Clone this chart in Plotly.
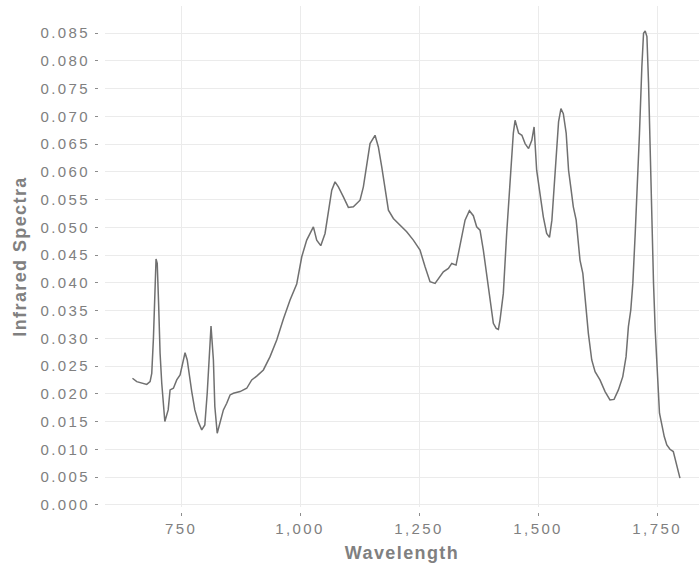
import plotly.graph_objects as go

wavelength = [648, 657, 678, 685, 688.5, 692, 697.5, 700, 703, 706, 709.5, 716, 723, 727, 734, 741, 748,
              758.4, 763, 769, 772.5, 779, 786, 793.5, 800, 805, 809, 813, 818, 821, 826, 832, 839, 846,
              853, 860, 874, 888, 898.5, 909, 923, 937, 951, 965, 979, 993, 1003.6, 1014, 1028, 1035,
              1043.5, 1052.5, 1059.5, 1066.6, 1073.5, 1080.5, 1091, 1101.5, 1112, 1126, 1133, 1140, 1147,
              1157.5, 1164.5, 1171.6, 1178.6, 1185.6, 1196, 1210, 1224, 1238, 1252, 1262.6, 1273, 1283.6,
              1294, 1301, 1311.6, 1318.7, 1327.7, 1336, 1346.6, 1355.7, 1364, 1371, 1378, 1385, 1392,
              1399, 1406, 1412, 1416.6, 1420, 1427, 1434, 1441, 1448, 1451.7, 1459, 1466, 1472.7, 1480,
              1486.8, 1491.6, 1497, 1504, 1511, 1518, 1524, 1529, 1533.6, 1539, 1543, 1548, 1553, 1559,
              1564, 1568.6, 1574, 1580, 1588, 1594, 1601, 1605.6, 1612.7, 1619.7, 1630, 1640.7, 1651,
              1659.6, 1668.7, 1677.9, 1684.8, 1689.7, 1694.7, 1699, 1704, 1709, 1713, 1718, 1721.5, 1725,
              1728.6, 1732, 1735.5, 1739, 1742.5, 1746, 1748, 1751, 1755, 1760, 1765, 1770.4, 1777, 1784,
              1788, 1793, 1798]
spectra = [0.0228, 0.0222, 0.0217, 0.0222, 0.0237, 0.0300, 0.0443, 0.0435, 0.0360, 0.0273, 0.0219, 0.0150,
           0.0171, 0.0207, 0.0210, 0.0225, 0.0234, 0.0274, 0.0261, 0.0219, 0.0204, 0.0171, 0.0150, 0.0135,
           0.0144, 0.0201, 0.0260, 0.0322, 0.0261, 0.0177, 0.0129, 0.0147, 0.0171, 0.0183, 0.0198, 0.0201,
           0.0204, 0.0210, 0.0225, 0.0232, 0.0243, 0.0267, 0.0297, 0.0335, 0.0369, 0.0398, 0.0447, 0.0477,
           0.0501, 0.0477, 0.0467, 0.0489, 0.0525, 0.0567, 0.0582, 0.0573, 0.0555, 0.0536, 0.0537, 0.0549,
           0.0573, 0.0615, 0.0651, 0.0666, 0.0645, 0.0609, 0.0567, 0.0531, 0.0516, 0.0504, 0.0492, 0.0477,
           0.0459, 0.0429, 0.0402, 0.0399, 0.0411, 0.0420, 0.0426, 0.0435, 0.0432, 0.0465, 0.0513, 0.0530,
           0.0521, 0.0501, 0.0495, 0.0459, 0.0417, 0.0375, 0.0327, 0.0318, 0.0316, 0.0333, 0.0381, 0.0489,
           0.0573, 0.0670, 0.0693, 0.0670, 0.0666, 0.0651, 0.0642, 0.0657, 0.0681, 0.0603, 0.0561, 0.0519,
           0.0489, 0.0482, 0.0513, 0.0567, 0.0639, 0.0690, 0.0714, 0.0705, 0.0670, 0.0603, 0.0573, 0.0537,
           0.0513, 0.0441, 0.0417, 0.0345, 0.0309, 0.0261, 0.0240, 0.0225, 0.0204, 0.0189, 0.0190, 0.0207,
           0.0231, 0.0267, 0.0321, 0.0351, 0.0399, 0.0489, 0.0579, 0.0670, 0.0790, 0.0850, 0.0854, 0.0844,
           0.0760, 0.0639, 0.0489, 0.0399, 0.0315, 0.0279, 0.0213, 0.0165, 0.0144, 0.0123, 0.0108, 0.0100,
           0.0096, 0.0081, 0.0066, 0.0048]

x_ticks = [750, 1000, 1250, 1500, 1750]
x_tick_labels = ["750", "1,000", "1,250", "1,500", "1,750"]
y_ticks = [i * 0.005 for i in range(18)]
y_tick_labels = [f"{v:.3f}" for v in y_ticks]

gray = "#808080"
font = "Liberation Sans, Arial, sans-serif"

fig = go.Figure()
fig.add_trace(go.Scatter(x=wavelength, y=spectra, mode="lines",
                         line=dict(color="#707070", width=1.5), showlegend=False))

fig.update_layout(
    width=699, height=573,
    margin=dict(l=98, r=0, t=6, b=61, autoexpand=False),
    paper_bgcolor="white", plot_bgcolor="white",
    font=dict(family=font, color=gray),
    xaxis=dict(range=[590.3, 1838], domain=[7 / 601, 1], anchor="free", position=0,
               automargin=False,
               tickvals=x_ticks, ticktext=x_tick_labels,
               showgrid=True, gridcolor="#ebebeb", gridwidth=1, zeroline=False,
               ticks="outside", ticklen=3, tickcolor="#8c8c8c", tickwidth=1,
               tickfont=dict(size=15, color=gray), showline=False,
               title=dict(text="<b>Wavelength</b>", font=dict(size=18, color=gray), standoff=10)),
    yaxis=dict(range=[-0.0004, 0.0899], domain=[5 / 506, 1], anchor="free", position=0,
               automargin=False, ticklabelstandoff=2,
               tickvals=y_ticks, ticktext=y_tick_labels,
               showgrid=True, gridcolor="#ebebeb", gridwidth=1, zeroline=False,
               ticks="outside", ticklen=3, tickcolor="#8c8c8c", tickwidth=1,
               tickfont=dict(size=15, color=gray), showline=False,
               title=dict(text="<b>Infrared Spectra</b>", font=dict(size=18, color=gray), standoff=20)),
)

post = """
document.body.style.margin = '0';
var gd = document.getElementById('{plot_id}');
function spaceText() {
  gd.querySelectorAll('.xtick text, .ytick text').forEach(function(t){ t.style.letterSpacing = '2.4px'; });
  gd.querySelectorAll('.xtitle, .ytitle').forEach(function(t){ t.style.letterSpacing = '1.4px'; });
}
spaceText();
gd.on('plotly_afterplot', spaceText);
"""

fig.write_html("out.html", post_script=post, config={"displayModeBar": False})
